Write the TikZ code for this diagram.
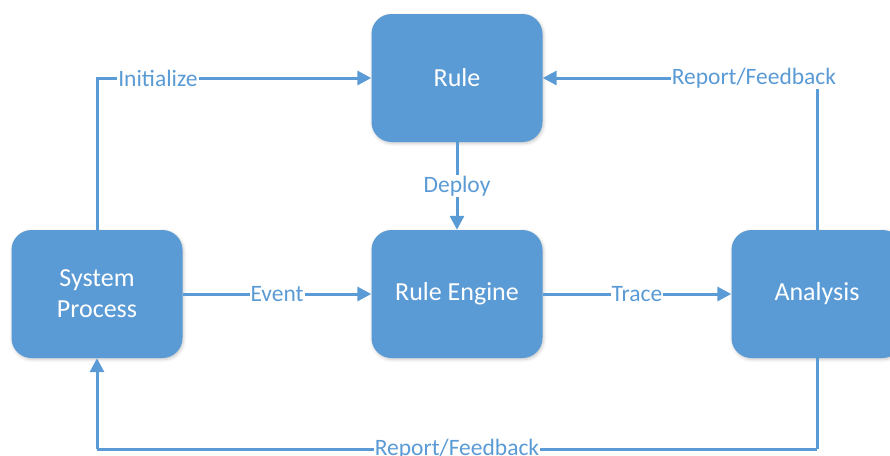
\documentclass[tikz,border=0pt]{standalone}
\usepackage{fontspec}
\setmainfont{Carlito}
\usetikzlibrary{arrows.meta,shadows.blur}
\definecolor{boxblue}{HTML}{5B9BD5}
\tikzset{
  block/.style={rounded corners=20pt, fill=boxblue, text=white,
    minimum width=171pt, minimum height=128pt, align=center,
    font=\fontsize{26}{31}\selectfont, inner sep=0pt,
    blur shadow={shadow xshift=1pt, shadow yshift=-1.5pt,
      shadow blur radius=3pt, shadow opacity=22}},
  conn/.style={draw=boxblue, line width=3pt,
    -{Triangle[length=14pt,width=14pt]}},
  plain/.style={draw=boxblue, line width=3pt},
  lbl/.style={fill=white, text=boxblue, inner sep=1pt,
    font=\fontsize{23.5}{28}\selectfont}
}
\begin{document}
\begin{tikzpicture}[x=1pt, y=-1pt]
  \useasboundingbox (0,0) rectangle (890,455);

  % process blocks
  \node[block] (rule) at (457,78)  {Rule};
  \node[block] (eng)  at (457,294) {Rule Engine};
  \node[block] (sys)  at (97,294)  {System\\Process};
  \node[block] (an)   at (817,294) {Analysis};

  % corners of the lower feedback loop
  \coordinate (b1) at (817,449);
  \coordinate (b2) at (97,449);

  % connectors
  \draw[conn] (sys.north) |- node[lbl, pos=0.611] {Initialize} (rule.west);
  \draw[conn] (an.north) |- node[lbl, pos=0.615] {Report/Feedback} (rule.east);
  \draw[conn] (rule.south) -- node[lbl] {Deploy} (eng.north);
  \draw[conn] (sys.east) -- node[lbl] {Event} (eng.west);
  \draw[conn] (eng.east) -- node[lbl] {Trace} (an.west);
  \draw[plain] (an.south) -- (b1);
  \draw[plain] (b1) -- node[lbl] {Report/Feedback} (b2);
  \draw[conn] (b2) -- (sys.south);
\end{tikzpicture}
\end{document}
